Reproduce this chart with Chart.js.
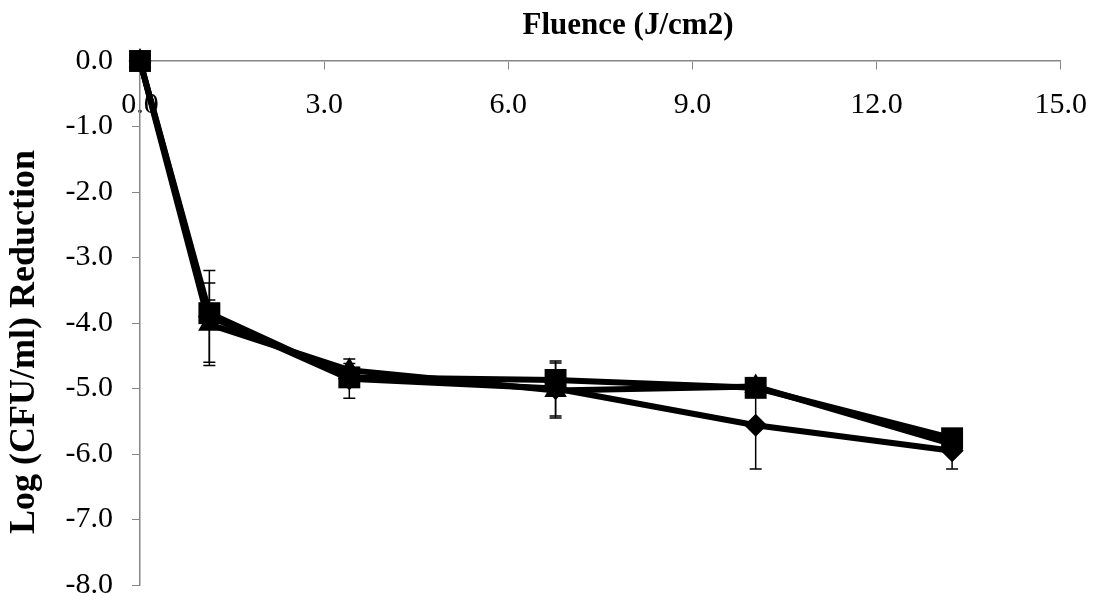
<!DOCTYPE html>
<html>
<head>
<meta charset="utf-8">
<script src="https://cdn.jsdelivr.net/npm/chart.js@4"></script>
<style>
  body { margin: 0; background: #fff; }
  #wrap { width: 1105px; height: 606px; }
</style>
</head>
<body>
<div id="wrap"><canvas id="chart" width="1105" height="606"></canvas></div>
<script>
const fluence = [0, 1.13, 3.41, 6.77, 10.03, 13.23];

const squareVals = [0, -3.85, -4.83, -4.87, -4.99, -5.76];
const squareErr = [0, 0.2, 0.1, 0.15, 0.1, 0.14];
const triangleVals = [0, -4.02, -4.72, -5.03, -4.97, -5.85];
const triangleErr = [0, 0.63, 0.1, 0.42, 0.12, 0.15];
const diamondVals = [0, -3.9, -4.85, -5.0, -5.56, -5.95];
const diamondErr = [0, 0.7, 0.3, 0.42, 0.67, 0.28];

const xTitle = "Fluence (J/cm2)";
const yTitle = "Log (CFU/ml) Reduction";

const serif = "'Liberation Serif', 'Times New Roman', serif";
const axisGrey = "#868686";

const toPoints = (vals) => vals.map((v, i) => ({ x: fluence[i], y: v }));

const series = [
  { vals: squareVals, err: squareErr, style: "rect", r: 15.5 },
  { vals: triangleVals, err: triangleErr, style: "triangle", r: 13 },
  { vals: diamondVals, err: diamondErr, style: "rectRot", r: 11.5 },
];

// error bars drawn under the markers
const errorBars = {
  id: "errorBars",
  beforeDatasetsDraw(chart) {
    const { ctx, scales } = chart;
    ctx.save();
    ctx.strokeStyle = "#000";
    ctx.lineWidth = 1.5;
    series.forEach((s) => {
      s.vals.forEach((v, i) => {
        if (!s.err[i]) return;
        const px = scales.x.getPixelForValue(fluence[i]);
        const top = scales.y.getPixelForValue(v + s.err[i]);
        const bot = scales.y.getPixelForValue(v - s.err[i]);
        ctx.beginPath();
        ctx.moveTo(px, top); ctx.lineTo(px, bot);
        ctx.moveTo(px - 6, top); ctx.lineTo(px + 6, top);
        ctx.moveTo(px - 6, bot); ctx.lineTo(px + 6, bot);
        ctx.stroke();
      });
    });
    ctx.restore();
  },
};

// axis titles
const titles = {
  id: "titles",
  afterDraw(chart) {
    const { ctx } = chart;
    ctx.save();
    ctx.fillStyle = "#000";
    ctx.textAlign = "center";
    ctx.textBaseline = "middle";
    ctx.font = "bold 31px " + serif;
    ctx.fillText(xTitle, 628, 26);
    ctx.font = "bold 36px " + serif;
    ctx.translate(25, 342);
    ctx.rotate(-Math.PI / 2);
    ctx.fillText(yTitle, 0, 0);
    ctx.restore();
  },
};

new Chart(document.getElementById("chart"), {
  type: "scatter",
  data: {
    datasets: series.map((s) => ({
      data: toPoints(s.vals),
      showLine: true,
      clip: false,
      borderColor: "#000",
      backgroundColor: "#000",
      borderWidth: 6,
      tension: 0,
      pointStyle: s.style,
      pointRadius: s.r,
      pointHoverRadius: s.r,
      pointBorderWidth: 0,
    })),
  },
  options: {
    responsive: false,
    animation: false,
    layout: { padding: { top: 61, right: 35, bottom: 21, left: 0 } },
    plugins: { legend: { display: false }, tooltip: { enabled: false } },
    scales: {
      x: {
        type: "linear",
        position: { y: 0 },
        min: 0,
        max: 15,
        border: { color: axisGrey, width: 1.5 },
        grid: { drawOnChartArea: false, drawTicks: true, tickLength: 8, color: axisGrey },
        ticks: {
          stepSize: 3,
          padding: 18,
          color: "#000",
          font: { family: serif, size: 30 },
          callback: (v) => v.toFixed(1),
        },
      },
      y: {
        type: "linear",
        position: "left",
        min: -8,
        max: 0,
        afterFit: (s) => {
          s.width = 140;
          s.paddingTop = 0;
          s.paddingBottom = 0;
        },
        border: { color: axisGrey, width: 1.5 },
        grid: { drawOnChartArea: false, drawTicks: true, tickLength: 8, color: axisGrey },
        ticks: {
          stepSize: 1,
          padding: 19,
          color: "#000",
          font: { family: serif, size: 30 },
          callback: (v) => v.toFixed(1),
        },
      },
    },
  },
  plugins: [errorBars, titles],
});
</script>
</body>
</html>
